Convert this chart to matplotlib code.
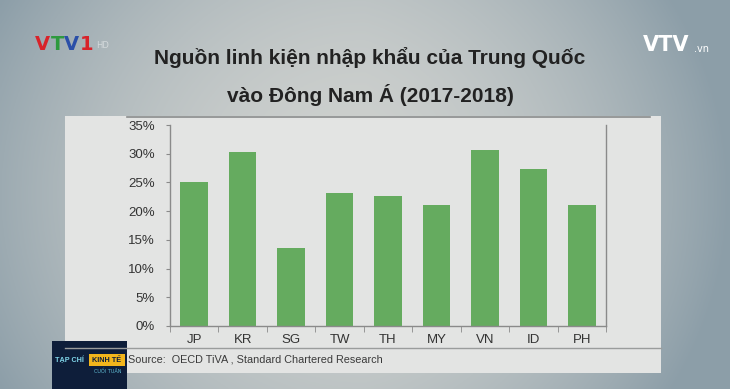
import numpy as np
import matplotlib.pyplot as plt
from matplotlib.patches import Rectangle
from matplotlib.ticker import FuncFormatter

# data
countries = ["JP", "KR", "SG", "TW", "TH", "MY", "VN", "ID", "PH"]
shares = [25.1, 30.3, 13.5, 23.1, 22.6, 21.0, 30.6, 27.3, 21.1]
title_lines = ["Nguồn linh kiện nhập khẩu của Trung Quốc", "vào Đông Nam Á (2017-2018)"]
source = "Source:  OECD TiVA , Standard Chartered Research"

W, H = 730, 389
BAR_GREEN = "#65ab5f"


def fx(px):
    return px / W


def fy(py):
    return 1 - py / H


fig = plt.figure(figsize=(7.3, 3.89), dpi=100)

# screen background: grey with bluish edges
bg = fig.add_axes([0, 0, 1, 1])
xx = np.linspace(-1, 1, 400)
yy = np.linspace(-1, 1, 220)
X, Y = np.meshgrid(xx, yy)
t = np.clip(0.75 * X ** 2 + 0.25 * Y ** 2 + 0.25 * np.clip(X, 0, None), 0, 1)
c0 = np.array([0.81, 0.82, 0.81])
c1 = np.array([0.55, 0.62, 0.66])
img = c0[None, None, :] * (1 - t[..., None]) + c1[None, None, :] * t[..., None]
bg.imshow(img, extent=[0, 1, 0, 1], aspect="auto", origin="lower")
bg.set_xlim(0, 1)
bg.set_ylim(0, 1)
bg.axis("off")

# light panel holding the chart
bg.add_patch(Rectangle((fx(65), fy(373)), fx(661) - fx(65), fy(116) - fy(373),
                       facecolor="#e3e4e3", edgecolor="none"))
bg.plot([fx(127), fx(650)], [fy(116.5), fy(116.5)], color="#8a8c8c", lw=1.2)
bg.plot([fx(65), fx(661)], [fy(348), fy(348)], color="#9a9c9c", lw=1.0)

# title
for i, line in enumerate(title_lines):
    bg.text(fx(370), fy(57 + 38 * i), line, ha="center", va="center",
            fontsize=15, fontweight="bold", family="Liberation Sans",
            color="#222222")

# bar chart
ax = fig.add_axes([fx(170), fy(326), fx(606) - fx(170), fy(125) - fy(326)])
ax.set_facecolor("none")
pos = np.arange(len(countries))
ax.bar(pos, [v / 100 for v in shares], width=0.57, color=BAR_GREEN)
ax.set_xlim(-0.5, len(countries) - 0.5)
ax.set_ylim(0, 0.35)
ax.set_yticks(np.arange(0, 0.351, 0.05))
ax.yaxis.set_major_formatter(FuncFormatter(lambda v, _: f"{v * 100:.0f}%"))
ax.set_xticks(pos)
ax.set_xticklabels(countries)
ax.set_xticks(np.arange(-0.5, len(countries), 1), minor=True)
ax.tick_params(axis="x", which="major", length=0, pad=6)
ax.tick_params(axis="x", which="minor", length=4, color="#8a8a8a", direction="out")
ax.tick_params(axis="y", length=3, color="#8a8a8a", pad=8)
for lab in ax.get_xticklabels() + ax.get_yticklabels():
    lab.set_family("Liberation Sans")
    lab.set_fontsize(9.5)
    lab.set_color("#333333")
for side in ["left", "bottom", "right"]:
    ax.spines[side].set_color("#8a8a8a")
    ax.spines[side].set_linewidth(1.0)
ax.spines["top"].set_visible(False)

bg.text(fx(128), fy(360), source, ha="left", va="center", fontsize=7.8,
        family="Liberation Sans", color="#3a3a3a")

# channel logos
vtv_cols = ["#d8232a", "#2e9a3e", "#2a4fa8", "#d8232a"]
vtv_x = [35, 50.5, 64, 79.5]
for ch, col, x0 in zip("VTV1", vtv_cols, vtv_x):
    bg.text(fx(x0), fy(44), ch, ha="left", va="center", fontsize=14,
            fontweight="bold", family="DejaVu Sans", color=col)
bg.text(fx(96), fy(46), "HD", ha="left", va="center", fontsize=6,
        family="DejaVu Sans", color="#e6e9ea", alpha=0.7)
bg.text(fx(643), fy(45), "VTV", ha="left", va="center", fontsize=15,
        fontweight="bold", family="DejaVu Sans", color="white")
bg.text(fx(694), fy(49), ".vn", ha="left", va="center", fontsize=7,
        family="DejaVu Sans", color="white")

# programme badge
bg.add_patch(Rectangle((fx(52), 0), fx(127) - fx(52), fy(341), facecolor="#0e1e3a",
                       edgecolor="none"))
bg.text(fx(55), fy(360), "TẠP CHÍ", ha="left", va="center", fontsize=5.2,
        fontweight="bold", family="Liberation Sans", color="#7fd4e8")
bg.add_patch(Rectangle((fx(89), fy(366)), fx(125) - fx(89), fy(354) - fy(366),
                       facecolor="#f2b51c", edgecolor="none"))
bg.text(fx(107), fy(360), "KINH TẾ", ha="center", va="center", fontsize=5.2,
        fontweight="bold", family="Liberation Sans", color="#0e1e3a")
bg.text(fx(108), fy(371), "CUỐI TUẦN", ha="center", va="center", fontsize=3.6,
        family="DejaVu Sans", color="#5fb8d0")

fig.savefig("out.png", dpi=100)
